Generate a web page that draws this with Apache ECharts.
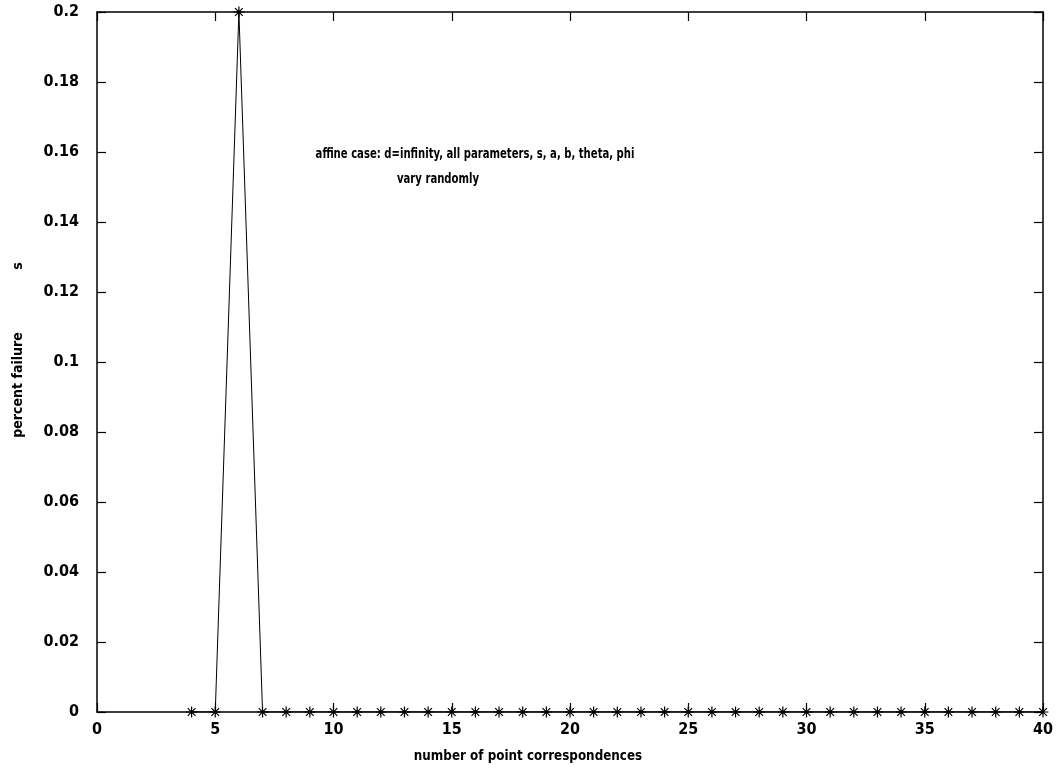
<!DOCTYPE html>
<html>
<head>
<meta charset="utf-8">
<script src="https://cdn.jsdelivr.net/npm/echarts@6/dist/echarts.min.js"></script>
<style>
  html, body { margin: 0; padding: 0; background: #fff; }
  #chart { width: 1061px; height: 782px; }
</style>
</head>
<body>
<div id="chart"></div>
<script>
// Number of point correspondences and the measured failure rate
const correspondences = [4, 5, 6, 7, 8, 9, 10, 11, 12, 13, 14, 15, 16, 17, 18, 19, 20, 21, 22,
  23, 24, 25, 26, 27, 28, 29, 30, 31, 32, 33, 34, 35, 36, 37, 38, 39, 40];
const failureRate = [0, 0, 0.2, 0, 0, 0, 0, 0, 0, 0, 0, 0, 0, 0, 0, 0, 0, 0, 0,
  0, 0, 0, 0, 0, 0, 0, 0, 0, 0, 0, 0, 0, 0, 0, 0, 0, 0];

const xTicks = { min: 0, max: 40, interval: 5 };
const yTicks = { min: 0, max: 0.2, interval: 0.02 };

const FAMILY = 'DejaVu Sans Condensed';
const INK = '#000';

// Asterisk marker: vertical, horizontal and two diagonal strokes
const asterisk = 'path://M5,0L5,10M0,5L10,5M1.5,1.5L8.5,8.5M1.5,8.5L8.5,1.5';

const points = correspondences.map((x, i) => [x, failureRate[i]]);

const axisLine = { show: true, onZero: false, lineStyle: { color: INK, width: 1.5 } };
const tickIn = { show: true, inside: true, length: 9, lineStyle: { color: INK, width: 1.2 } };
const tickLabel = {
  color: INK, fontFamily: FAMILY, fontWeight: 'bold', fontSize: 16
};

const chart = echarts.init(document.getElementById('chart'));
chart.setOption({
  animation: false,
  backgroundColor: '#fff',
  grid: { left: 97, right: 18, top: 12, bottom: 70 },
  xAxis: [
    {
      type: 'value', position: 'bottom', ...xTicks,
      axisLine, axisTick: tickIn, splitLine: { show: false },
      axisLabel: { ...tickLabel, margin: 10 }
    },
    {
      type: 'value', position: 'top', ...xTicks,
      axisLine, axisTick: tickIn, splitLine: { show: false }, axisLabel: { show: false }
    }
  ],
  yAxis: [
    {
      type: 'value', position: 'left', ...yTicks,
      axisLine, axisTick: tickIn, splitLine: { show: false },
      axisLabel: { ...tickLabel, margin: 18 }
    },
    {
      type: 'value', position: 'right', ...yTicks,
      axisLine, axisTick: tickIn, splitLine: { show: false }, axisLabel: { show: false }
    }
  ],
  series: [{
    type: 'line',
    data: points,
    symbol: asterisk,
    symbolSize: 11,
    showAllSymbol: true,
    lineStyle: { color: INK, width: 1 },
    itemStyle: { color: 'rgba(0,0,0,0)', borderColor: INK, borderWidth: 1.2 },
    z: 3
  }],
  graphic: [
    {
      type: 'text', x: 475, y: 147, scaleX: 0.8,
      style: {
        text: 'affine case: d=infinity, all parameters, s, a, b, theta, phi',
        x: 0, y: 0, align: 'center',
        fontFamily: FAMILY, fontWeight: 'bold', fontSize: 14, fill: INK
      }
    },
    {
      type: 'text', x: 438, y: 172, scaleX: 0.8,
      style: {
        text: 'vary randomly', x: 0, y: 0, align: 'center',
        fontFamily: FAMILY, fontWeight: 'bold', fontSize: 14, fill: INK
      }
    },
    {
      type: 'text', x: 528, y: 749, scaleX: 0.95,
      style: {
        text: 'number of point correspondences', x: 0, y: 0, align: 'center',
        fontFamily: FAMILY, fontWeight: 'bold', fontSize: 14, fill: INK
      }
    },
    {
      type: 'text', x: 18, y: 385, rotation: Math.PI / 2,
      style: {
        text: 'percent failure', x: 0, y: 0, align: 'center', verticalAlign: 'middle',
        fontFamily: FAMILY, fontWeight: 'bold', fontSize: 14, fill: INK
      }
    },
    {
      type: 'text', x: 18, y: 266, rotation: Math.PI / 2,
      style: {
        text: 's', x: 0, y: 0, align: 'center', verticalAlign: 'middle',
        fontFamily: FAMILY, fontWeight: 'bold', fontSize: 14, fill: INK
      }
    }
  ]
});
</script>
</body>
</html>
